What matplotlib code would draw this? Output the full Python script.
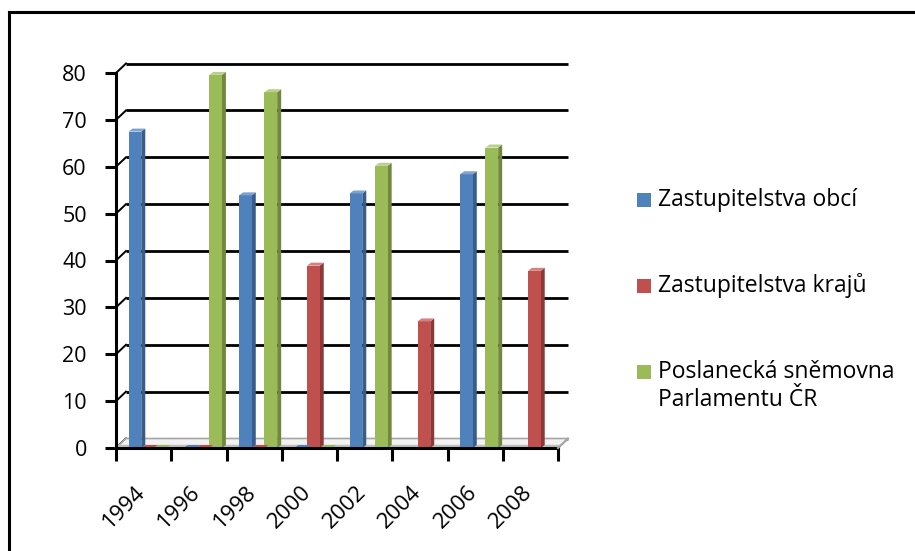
import numpy as np
import matplotlib
matplotlib.use("Agg")
import matplotlib.pyplot as plt
from matplotlib.patches import Polygon, Rectangle
from matplotlib.lines import Line2D
import matplotlib.transforms as mtransforms

plt.rcParams['font.family'] = ['Open Sans', 'DejaVu Sans']

years = ['1994', '1996', '1998', '2000', '2002', '2004', '2006', '2008']
series_names = ['Zastupitelstva obcí', 'Zastupitelstva krajů',
                'Poslanecká sněmovna\nParlamentu ČR']
obce = [67.5, 0, 53.9, 0, 54.3, np.nan, 58.4, np.nan]
kraje = [0, 0, 0, 38.9, np.nan, 27.0, np.nan, 37.8]
snemovna = [0, 79.6, 75.9, 0, 60.2, np.nan, 64.1, np.nan]
yticks = [0, 10, 20, 30, 40, 50, 60, 70, 80]

front = ['#4F81BD', '#C0504D', '#9BBB59']
side = ['#385D8A', '#8C3836', '#71893F']
top = ['#7FA3D1', '#D4817F', '#B8D08A']

W, H = 915, 551
fig = plt.figure(figsize=(W / 100, H / 100), dpi=100)
fig.patch.set_facecolor('white')

# axes: front plane
ax_l, ax_r = 116, 558
ax_b, ax_t = 448, 73
ax = fig.add_axes([ax_l / W, (H - ax_b) / H, (ax_r - ax_l) / W, (ax_b - ax_t) / H])
ax.set_xlim(0, len(years))
ax.set_ylim(0, 80)
ax.patch.set_alpha(0)
for s in ['top', 'right', 'bottom']:
    ax.spines[s].set_visible(False)
ax.spines['left'].set_linewidth(2.2)
ax.spines['left'].set_zorder(5)

px_x = (ax_r - ax_l) / len(years)   # pixels per category
px_y = (ax_b - ax_t) / 80.0          # pixels per unit

# back wall offset (pixels)
ox, oy = 10, 9.5
ddx, ddy = ox / px_x, oy / px_y

# back gridlines + left wall diagonals
for v in yticks:
    lc = '#000000' if v != 0 else '#808080'
    ax.plot([ddx, len(years) + ddx], [v + ddy, v + ddy], color=lc, lw=2.0,
            clip_on=False, zorder=1, solid_capstyle='butt')
    ax.plot([0, ddx], [v, v + ddy], color='black', lw=1.4, clip_on=False, zorder=1)

# floor
floor = Polygon([[0, 0], [len(years), 0], [len(years) + ddx, ddy], [ddx, ddy]],
                closed=True, facecolor='#F2F2F2', edgecolor='#A6A6A6', lw=1.2,
                clip_on=False, zorder=1.5)
ax.add_patch(floor)
ax.plot([0, len(years)], [0.35, 0.35], color='#BFBFBF', lw=2.5, clip_on=False, zorder=1.6)

# bars
x = np.arange(len(years)) + 0.5
bw = 12.7 / px_x
shift = 4.0 / px_x
bdx, bdy = 4.0 / px_x, 3.0 / px_y
for i, vals in enumerate([obce, kraje, snemovna]):
    xs = x + shift + (i - 1) * bw
    vals_arr = np.array(vals, dtype=float)
    bars = ax.bar(xs, np.nan_to_num(vals_arr), width=bw, color=front[i],
                  zorder=3 + i * 0.01, label=series_names[i], clip_on=False)
    for rect, v in zip(bars.patches, vals_arr):
        if np.isnan(v):
            rect.set_visible(False)
            continue
        x0 = rect.get_x()
        x1 = x0 + rect.get_width()
        h = rect.get_height()
        if h > 0:
            sd = Polygon([[x1, 0], [x1, h], [x1 + bdx, h + bdy], [x1 + bdx, bdy]],
                         closed=True, facecolor=side[i], edgecolor='none',
                         zorder=2.9 + i * 0.01, clip_on=False)
            ax.add_patch(sd)
        tp = Polygon([[x0, h], [x1, h], [x1 + bdx, h + bdy], [x0 + bdx, h + bdy]],
                     closed=True, facecolor=top[i] if h > 0 else front[i],
                     edgecolor='none', zorder=3.1 + i * 0.01, clip_on=False)
        ax.add_patch(tp)

# x axis line
ax.plot([0, len(years)], [0, 0], color='black', lw=2.2, clip_on=False, zorder=4)
ax.plot([len(years), len(years) + ddx], [0, ddy], color='#A6A6A6', lw=1.5,
        clip_on=False, zorder=4)

# ticks
ax.set_yticks(yticks)
ax.set_yticklabels([str(v) for v in yticks], fontsize=15.5)
ax.tick_params(axis='y', direction='out', length=8, width=2.2, pad=13)

ax.set_xticks(x)
ax.set_xticklabels(years, fontsize=16, rotation=45, ha='right', va='top')
ax.tick_params(axis='x', length=0, pad=24)
ax.set_xticks(np.arange(len(years) + 1), minor=True)
ax.tick_params(axis='x', which='minor', direction='out', length=9, width=2.2)
off = mtransforms.ScaledTranslation(6 / 100, 0, fig.dpi_scale_trans)
for lbl in ax.get_xticklabels():
    lbl.set_transform(lbl.get_transform() + off)

# legend (manual)
leg_y = [200, 286, 372]
for i, name in enumerate(series_names):
    yc = leg_y[i]
    fig.add_artist(Rectangle(((637) / W, (H - yc - 7) / H), 14 / W, 14 / H,
                             transform=fig.transFigure, facecolor=front[i],
                             edgecolor='none'))
    fig.text(658 / W, (H - yc) / H, name.split('\n')[0], fontsize=16.5,
             va='center', ha='left')
    if '\n' in name:
        fig.text(658 / W, (H - yc - 28) / H, name.split('\n')[1], fontsize=16.5,
                 va='center', ha='left')

# outer frame
fig.add_artist(Line2D([9 / W, 1], [(H - 12) / H, (H - 12) / H],
                      transform=fig.transFigure, color='black', lw=2.2))
fig.add_artist(Line2D([9 / W, 9 / W], [0, (H - 12) / H],
                      transform=fig.transFigure, color='black', lw=2.2))

fig.savefig('out.png', dpi=100, facecolor='white')
